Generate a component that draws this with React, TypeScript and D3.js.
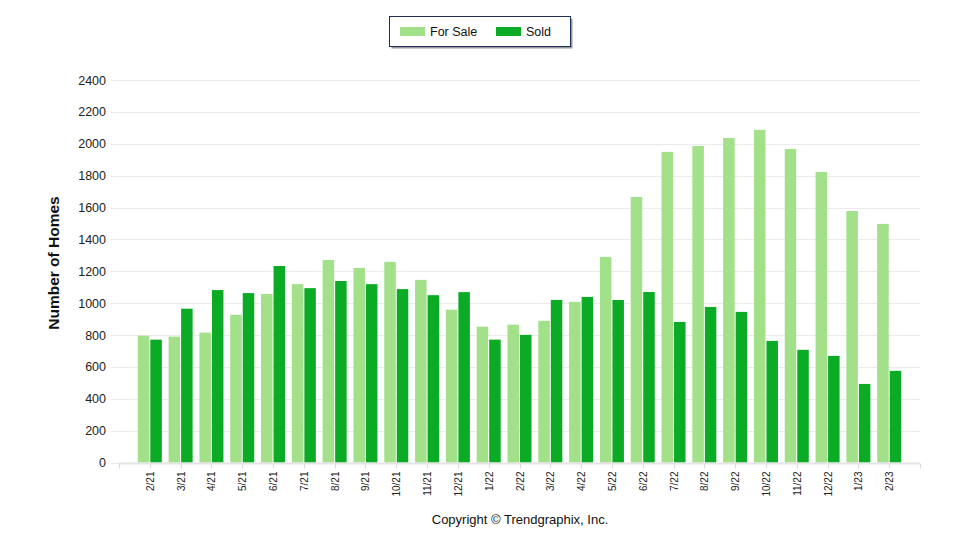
import React, { useRef, useEffect } from "react";
import * as d3 from "d3";

const MONTHS = [
  "2/21", "3/21", "4/21", "5/21", "6/21", "7/21", "8/21", "9/21", "10/21", "11/21", "12/21",
  "1/22", "2/22", "3/22", "4/22", "5/22", "6/22", "7/22", "8/22", "9/22", "10/22", "11/22", "12/22",
  "1/23", "2/23",
];
const FOR_SALE = [
  796, 790, 815, 927, 1057, 1119, 1271, 1221, 1259, 1146, 959,
  852, 865, 889, 1008, 1290, 1666, 1949, 1986, 2036, 2087, 1967, 1823,
  1578, 1497,
];
const SOLD = [
  771, 965, 1082, 1063, 1233, 1094, 1139, 1119, 1088, 1050, 1069,
  771, 801, 1020, 1039, 1020, 1070, 882, 976, 945, 763, 707, 669,
  493, 575,
];
const Y_TICKS = [0, 200, 400, 600, 800, 1000, 1200, 1400, 1600, 1800, 2000, 2200, 2400];

const LIGHT = "#a2e08a";
const DARK = "#0bab25";
const FONT = "'Liberation Sans', Arial, sans-serif";

const W = 960;
const H = 550;

const App: React.FC = () => {
  const svgRef = useRef<SVGSVGElement | null>(null);

  useEffect(() => {
    if (!svgRef.current) return;
    const svg = d3.select(svgRef.current);
    svg.selectAll("*").remove();

    const left = 119;
    const right = 920;
    const top = 80;
    const bottom = 462.5;

    const x = d3.scalePoint<string>().domain(MONTHS).range([left, right]).padding(1);
    const y = d3.scaleLinear().domain([0, 2400]).range([bottom, top]);

    /* grid */
    svg.append("g")
      .selectAll("line")
      .data(Y_TICKS)
      .join("line")
      .attr("x1", 111)
      .attr("x2", right)
      .attr("y1", (d) => Math.round(y(d)) + 0.5)
      .attr("y2", (d) => Math.round(y(d)) + 0.5)
      .attr("stroke", "#ebebeb")
      .attr("stroke-width", 1);

    svg.append("g")
      .selectAll("text")
      .data(Y_TICKS)
      .join("text")
      .attr("x", 106)
      .attr("y", (d) => y(d) + 4.5)
      .attr("text-anchor", "end")
      .attr("font-family", FONT)
      .attr("font-size", "12.5px")
      .attr("fill", "#222")
      .text((d) => `${d}`);

    /* bars */
    const bw = 11.5;
    const g = svg.append("g");
    g.selectAll(".sale")
      .data(MONTHS)
      .join("rect")
      .attr("class", "sale")
      .attr("x", (d) => x(d)! - bw - 0.5)
      .attr("y", (_, i) => y(FOR_SALE[i]))
      .attr("width", bw)
      .attr("height", (_, i) => bottom - y(FOR_SALE[i]))
      .attr("fill", LIGHT);
    g.selectAll(".sold")
      .data(MONTHS)
      .join("rect")
      .attr("class", "sold")
      .attr("x", (d) => x(d)! + 0.5)
      .attr("y", (_, i) => y(SOLD[i]))
      .attr("width", bw)
      .attr("height", (_, i) => bottom - y(SOLD[i]))
      .attr("fill", DARK);

    /* x axis */
    svg.append("line")
      .attr("x1", left)
      .attr("x2", right)
      .attr("y1", bottom + 1)
      .attr("y2", bottom + 1)
      .attr("stroke", "#e4e4e4")
      .attr("stroke-width", 2);
    svg.append("g")
      .selectAll("line")
      .data([left, ...MONTHS.map((m) => x(m)!), right])
      .join("line")
      .attr("x1", (d) => Math.round(d) + 0.5)
      .attr("x2", (d) => Math.round(d) + 0.5)
      .attr("y1", bottom + 1)
      .attr("y2", bottom + 6)
      .attr("stroke", "#dcdcdc");

    svg.append("g")
      .selectAll("text")
      .data(MONTHS)
      .join("text")
      .attr("transform", (d) => `translate(${x(d)! + 4},${bottom + 9}) rotate(-90)`)
      .attr("text-anchor", "end")
      .attr("font-family", FONT)
      .attr("font-size", "10px")
      .attr("fill", "#222")
      .text((d) => d);

    /* y title */
    svg.append("text")
      .attr("transform", `translate(59,263) rotate(-90)`)
      .attr("text-anchor", "middle")
      .attr("font-family", FONT)
      .attr("font-size", "15.5px")
      .attr("font-weight", "bold")
      .attr("fill", "#111")
      .text("Number of Homes");

    /* legend */
    const lg = svg.append("g");
    lg.append("rect")
      .attr("x", 391.5).attr("y", 18.5).attr("width", 181).attr("height", 30)
      .attr("fill", "#9a9a9a");
    lg.append("rect")
      .attr("x", 389.5).attr("y", 16.5).attr("width", 181).attr("height", 30)
      .attr("fill", "#fff").attr("stroke", "#1f2d5a");
    const items = [
      { label: "For Sale", color: LIGHT, x: 400 },
      { label: "Sold", color: DARK, x: 496 },
    ];
    items.forEach((it) => {
      lg.append("rect").attr("x", it.x).attr("y", 27).attr("width", 25).attr("height", 9).attr("fill", it.color);
      lg.append("text")
        .attr("x", it.x + 30)
        .attr("y", 36)
        .attr("font-family", FONT)
        .attr("font-size", "12.5px")
        .attr("fill", "#111")
        .text(it.label);
    });

    /* footer */
    svg.append("text")
      .attr("x", 520)
      .attr("y", 524)
      .attr("text-anchor", "middle")
      .attr("font-family", FONT)
      .attr("font-size", "13px")
      .attr("fill", "#111")
      .text("Copyright © Trendgraphix, Inc.");
  }, []);

  return (
    <svg
      ref={svgRef}
      width={W}
      height={H}
      style={{ position: "absolute", left: 0, top: 0, background: "#fff" }}
    />
  );
};

export default App;
